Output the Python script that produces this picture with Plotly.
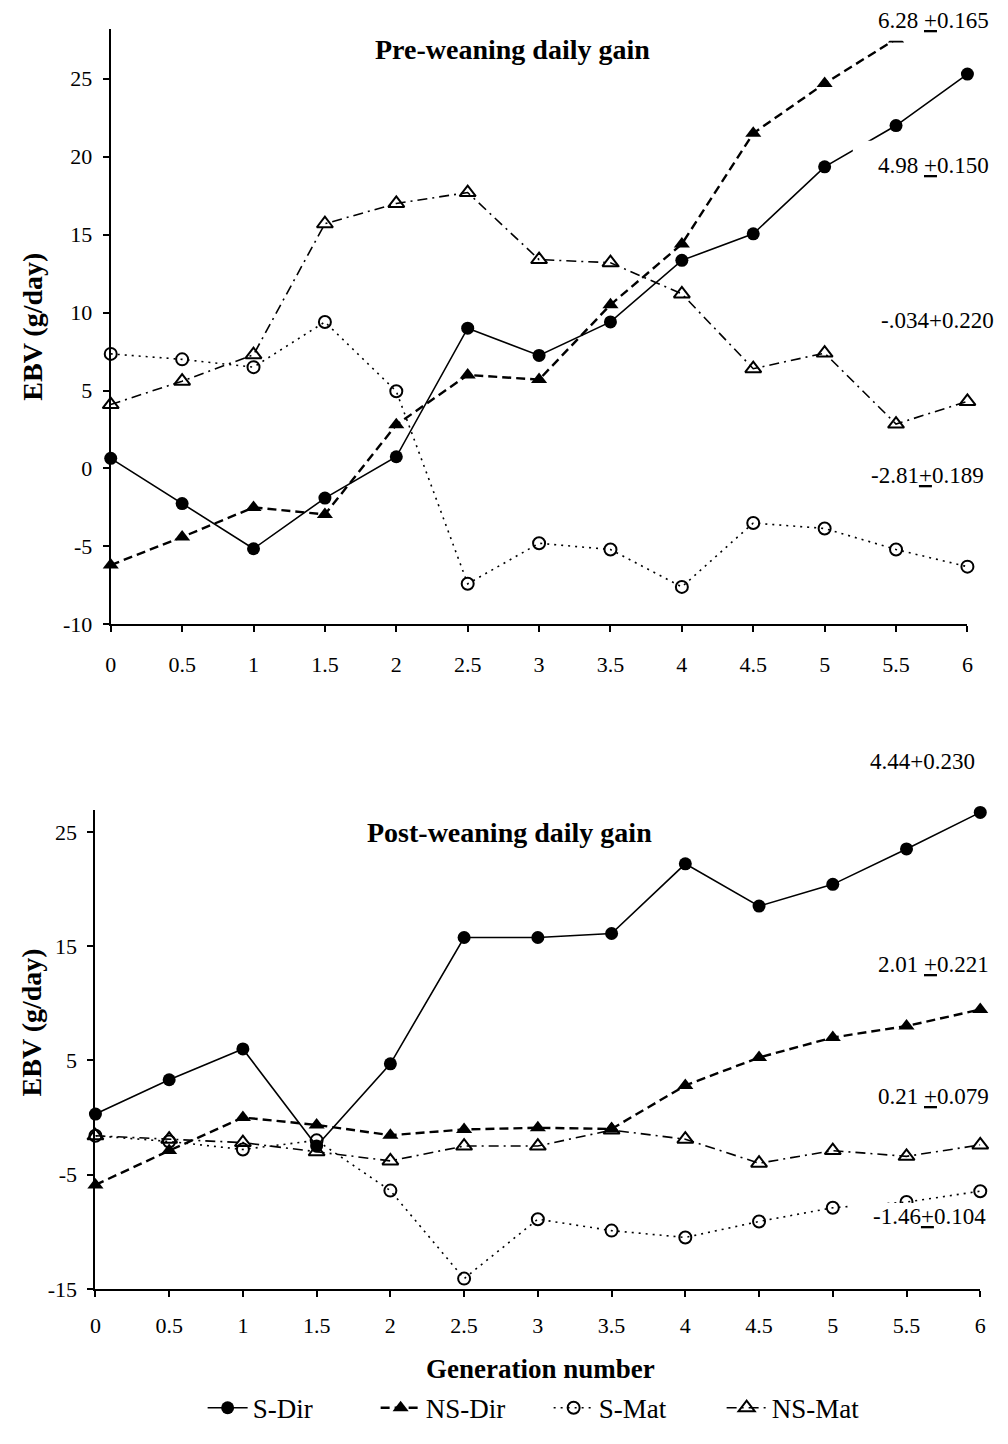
import plotly.graph_objects as go

# Generation numbers shared by both panels
generations = [0, 0.5, 1, 1.5, 2, 2.5, 3, 3.5, 4, 4.5, 5, 5.5, 6]
tick_labels = ["0", "0.5", "1", "1.5", "2", "2.5", "3", "3.5", "4", "4.5", "5", "5.5", "6"]
pre_yticks = [-10, -5, 0, 5, 10, 15, 20, 25]
post_yticks = [-15, -5, 5, 15, 25]

# Pre-weaning daily gain: estimated breeding values (g/day)
pre_s_dir = [0.65, -2.25, -5.15, -1.9, 0.75, 9.0, 7.25, 9.4, 13.35, 15.05, 19.35, 22.0, 25.3]
pre_ns_dir = [-6.2, -4.4, -2.5, -2.95, 2.8, 6.0, 5.7, 10.5, 14.4, 21.5, 24.7, 27.55, 29.6]
pre_s_mat = [7.35, 7.0, 6.5, 9.4, 4.95, -7.4, -4.8, -5.2, -7.6, -3.5, -3.85, -5.2, -6.3]
pre_ns_mat = [4.1, 5.6, 7.3, 15.7, 17.0, 17.7, 13.4, 13.2, 11.2, 6.4, 7.4, 2.85, 4.3]

# Post-weaning daily gain: estimated breeding values (g/day)
post_s_dir = [0.3, 3.3, 6.0, -2.5, 4.7, 15.75, 15.75, 16.1, 22.2, 18.5, 20.4, 23.5, 26.7]
post_ns_dir = [-5.9, -2.9, 0.0, -0.65, -1.55, -1.05, -0.9, -1.0, 2.8, 5.25, 7.0, 8.0, 9.45]
post_s_mat = [-1.6, -2.1, -2.8, -2.0, -6.4, -14.1, -8.9, -9.9, -10.5, -9.1, -7.9, -7.4, -6.45]
post_ns_mat = [-1.6, -1.9, -2.2, -3.0, -3.8, -2.5, -2.5, -1.1, -1.9, -4.0, -2.9, -3.4, -2.4]

# Regression slopes (± s.e.) written beside the lines
pre_slopes = ["6.28 <u>+</u>0.165", "4.98 <u>+</u>0.150", "-.034+0.220", "-2.81<u>+</u>0.189"]
post_slopes = ["4.44+0.230", "2.01 <u>+</u>0.221", "0.21 <u>+</u>0.079", "-1.46<u>+</u>0.104"]

W, H = 1008, 1444
FONT = "Liberation Serif"


def px(x):
    return x / W


def py(y):
    return 1 - y / H


def plain_labels(vals):
    # hyphen-minus rather than the typographic minus sign
    return [str(v) for v in vals]


styles = {
    "S-Dir": dict(line=dict(color="black", width=1.6, dash="solid"),
                  marker=dict(symbol="circle", size=13, color="black")),
    "NS-Dir": dict(line=dict(color="black", width=2.4, dash="9px,5px"),
                   marker=dict(symbol="triangle-up", size=14, color="black")),
    "S-Mat": dict(line=dict(color="black", width=1.6, dash="2px,5px"),
                  marker=dict(symbol="circle-open", size=12, color="black",
                              line=dict(width=2, color="black"))),
    "NS-Mat": dict(line=dict(color="black", width=1.6, dash="10px,5px,2px,5px"),
                   marker=dict(symbol="triangle-up-open", size=14, color="black",
                               line=dict(width=2, color="black"))),
}

fig = go.Figure()

panels = [
    ("x", "y", [("S-Dir", pre_s_dir), ("NS-Dir", pre_ns_dir),
                ("S-Mat", pre_s_mat), ("NS-Mat", pre_ns_mat)], True),
    ("x2", "y2", [("S-Dir", post_s_dir), ("NS-Dir", post_ns_dir),
                  ("S-Mat", post_s_mat), ("NS-Mat", post_ns_mat)], False),
]
for xa, ya, series, show in panels:
    for name, vals in series:
        st = styles[name]
        fig.add_trace(go.Scatter(
            x=generations, y=vals, name=name, mode="lines+markers",
            xaxis=xa, yaxis=ya, line=st["line"], marker=st["marker"],
            showlegend=show, cliponaxis=False,
        ))

axis_common = dict(
    showgrid=False, zeroline=False, showline=True, linecolor="black", linewidth=2,
    ticks="outside", ticklen=6, tickwidth=2, tickcolor="black",
    tickfont=dict(family=FONT, size=22, color="black"),
)

fig.update_layout(
    width=W, height=H,
    margin=dict(l=0, r=0, t=0, b=0),
    paper_bgcolor="white", plot_bgcolor="white",
    xaxis=dict(domain=[px(106), px(973)], range=[0, 6], anchor="y",
               tickvals=generations, ticktext=tick_labels, ticklabelstandoff=13,
               **axis_common),
    yaxis=dict(domain=[py(630), py(29)], range=[-10, 28.21], anchor="x",
               tickvals=pre_yticks, ticktext=plain_labels(pre_yticks),
               ticklabelstandoff=6, **axis_common),
    xaxis2=dict(domain=[px(90.5), px(986)], range=[0, 6], anchor="y2",
                tickvals=generations, ticktext=tick_labels, ticklabelstandoff=10,
                **axis_common),
    yaxis2=dict(domain=[py(1300.6), py(817)], range=[-15, 26.94], anchor="x2",
                tickvals=post_yticks, ticktext=plain_labels(post_yticks),
                ticklabelstandoff=6, **axis_common),
    legend=dict(orientation="h", x=px(199), xanchor="left", y=py(1421), yanchor="middle",
                font=dict(family=FONT, size=27, color="black"),
                entrywidth=118, itemwidth=40, bgcolor="rgba(0,0,0,0)"),
    showlegend=True,
)

# White boxes behind the slope labels, masking the lines they sit on
covers = [(880, 0, 1008, 41), (857, 142, 1008, 190), (855, 1214, 1008, 1245)]
for x0, y0, x1, y1 in covers:
    fig.add_shape(type="rect", xref="paper", yref="paper", layer="above",
                  x0=px(x0), x1=px(x1), y0=py(y1), y1=py(y0),
                  line=dict(width=0), fillcolor="white")

annots = []


def text(x, y, s, size=23, bold=False, angle=0):
    annots.append(dict(
        x=px(x), y=py(y), xref="paper", yref="paper", text=f"<b>{s}</b>" if bold else s,
        showarrow=False, xanchor="center", yanchor="middle", textangle=angle,
        font=dict(family=FONT, size=size, color="black"),
    ))


text(513, 50, "Pre-weaning daily gain", size=28, bold=True)
text(510, 840, "Post-weaning daily gain", size=28, bold=True)
text(26, 330, "EBV (g/day)", size=28, bold=True, angle=-90)
text(26, 1032, "EBV (g/day)", size=28, bold=True, angle=-90)
text(541, 1381, "Generation number", size=27, bold=True)

for s, (x, y) in zip(pre_slopes, [(939, 21), (939, 167), (943, 323), (933, 480)]):
    text(x, y, s)
for s, (x, y) in zip(post_slopes, [(928, 768), (939, 973), (939, 1106), (935, 1228)]):
    text(x, y, s)

fig.update_layout(annotations=annots)

fig.write_html("out.html")
